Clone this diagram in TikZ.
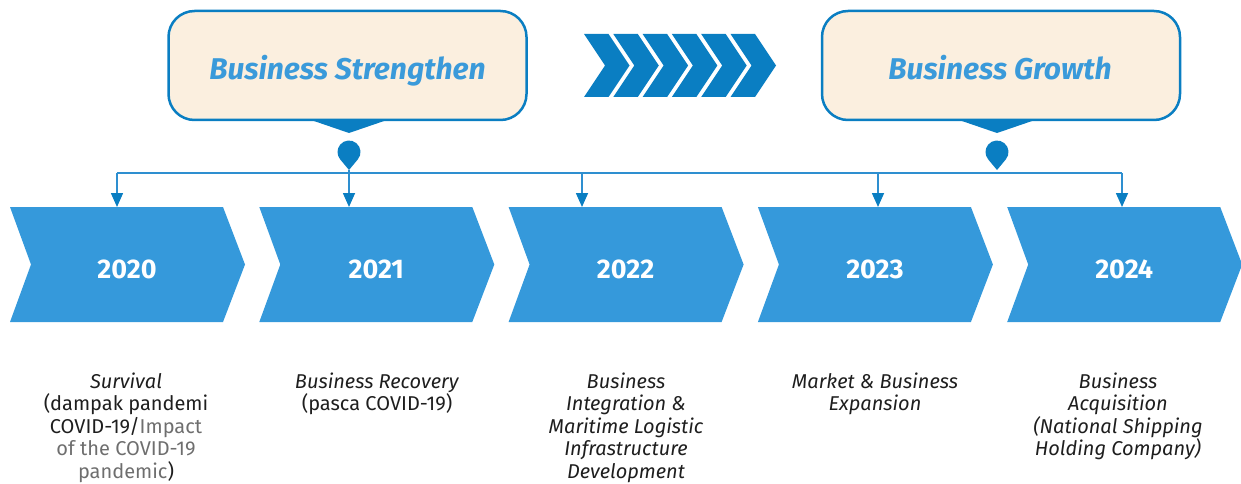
\documentclass[tikz,border=0pt]{standalone}
\usepackage{fontspec}
\setmainfont{Fira Sans}
\usetikzlibrary{arrows.meta}

\definecolor{stepblue}{HTML}{3599DB}
\definecolor{deepblue}{HTML}{0A7EC2}
\definecolor{linkblue}{HTML}{2E8FD0}
\definecolor{cream}{HTML}{FBEFDF}
\definecolor{titleblue}{HTML}{3A9ADA}
\definecolor{bodytext}{HTML}{1E1E1E}
\definecolor{softgray}{HTML}{6E6E6E}

\begin{document}
\begin{tikzpicture}[x=1pt,y=-1pt,
  phase/.style={draw=deepblue, line width=2.5pt, fill=cream,
    rounded corners=26pt, minimum width=358pt, minimum height=109pt,
    inner sep=0pt},
  phasetitle/.style={text=titleblue, inner sep=0pt,
    text height=21pt, text depth=0pt,
    font=\fontsize{30}{36}\selectfont\bfseries\itshape},
  yearlabel/.style={text=white, inner sep=0pt,
    font=\fontsize{27}{30}\selectfont\bfseries},
  note/.style={anchor=north, align=center, inner sep=0pt, text=bodytext,
    font=\fontsize{20}{22.5}\selectfont},
  noteit/.style={note, font=\fontsize{20}{22.5}\selectfont\itshape},
  bus/.style={draw=linkblue, line width=1.6pt},
  drop/.style={draw=linkblue, line width=1.6pt,
    -{Triangle[length=14pt,width=12pt,fill=deepblue,color=deepblue]}},
]
\useasboundingbox (0,0) rectangle (1241,484);

% phase callouts
\node[phase] (strengthen) at (347.5,65.5) {};
\node[phase] (growth) at (1001,65.5) {};
\node[phasetitle] (strengthenT) at (347.5,69) {Business Strengthen};
\node[phasetitle] (growthT) at (1000,69) {Business Growth};

% callout pointers and pins
\coordinate (pinA) at (349,170);
\coordinate (pinB) at (997,170);
\fill[deepblue] (349,133) -- ++(-38,-13) -- ++(76,0) -- cycle;
\fill[deepblue] (997,133) -- ++(-38,-13) -- ++(76,0) -- cycle;
\fill[deepblue] (pinA) -- ++(8.85,-10.65)
  arc[start angle=39.7, end angle=-219.7, radius=11.5] -- cycle;
\fill[deepblue] (pinB) -- ++(8.85,-10.65)
  arc[start angle=39.7, end angle=-219.7, radius=11.5] -- cycle;

% progression chevrons between the callouts
\foreach \i in {0,...,5}{
  \pgfmathsetmacro\cx{584+29.3*\i}
  \fill[deepblue] (\cx,34) -- ++(24.5,0) -- ++(21,31.5) -- ++(-21,31.5)
    -- ++(-24.5,0) -- ++(21,-31.5) -- cycle;
}

% year chevrons
\foreach \i/\yr in {0/2020,1/2021,2/2022,3/2023,4/2024}{
  \pgfmathsetmacro\xo{10+249.3*\i}
  \fill[stepblue] (\xo,207) -- ++(213,0) -- ++(22,57.5) -- ++(-22,57.5)
    -- ++(-213,0) -- ++(21,-57.5) -- cycle;
  \node[yearlabel] (y\yr) at (\xo+117,269) {\yr};
}

% distribution bus with drops onto the years
\coordinate (busL) at (117,173);
\coordinate (busR) at (1122,173);
\coordinate (busC) at (582,173);
\coordinate (busD) at (878,173);
\coordinate (top2020) at (117,207);
\coordinate (top2021) at (349,207);
\coordinate (top2022) at (582,207);
\coordinate (top2023) at (878,207);
\coordinate (top2024) at (1122,207);
\draw[bus] (busL) -- (busR);
\draw[drop] (busL) -- (top2020);
\draw[drop] (pinA) -- (top2021);
\draw[drop] (busC) -- (top2022);
\draw[drop] (busD) -- (top2023);
\draw[drop] (busR) -- (top2024);

% descriptions
\node[note] (d2020) at (126,372.5) {\textit{Survival}\\(dampak pandemi\\COVID-19/\textcolor{softgray}{Impact}\\\textcolor{softgray}{of the COVID-19}\\\textcolor{softgray}{pandemic})};
\node[note] (d2021) at (377,372.5) {\textit{Business Recovery}\\(pasca COVID-19)};
\node[noteit] (d2022) at (626,372.5) {Business\\Integration \&\\Maritime Logistic\\Infrastructure\\Development};
\node[noteit] (d2023) at (875,372.5) {Market \& Business\\Expansion};
\node[noteit] (d2024) at (1118,372.5) {Business\\Acquisition\\(National Shipping\\Holding Company)};
\end{tikzpicture}
\end{document}
